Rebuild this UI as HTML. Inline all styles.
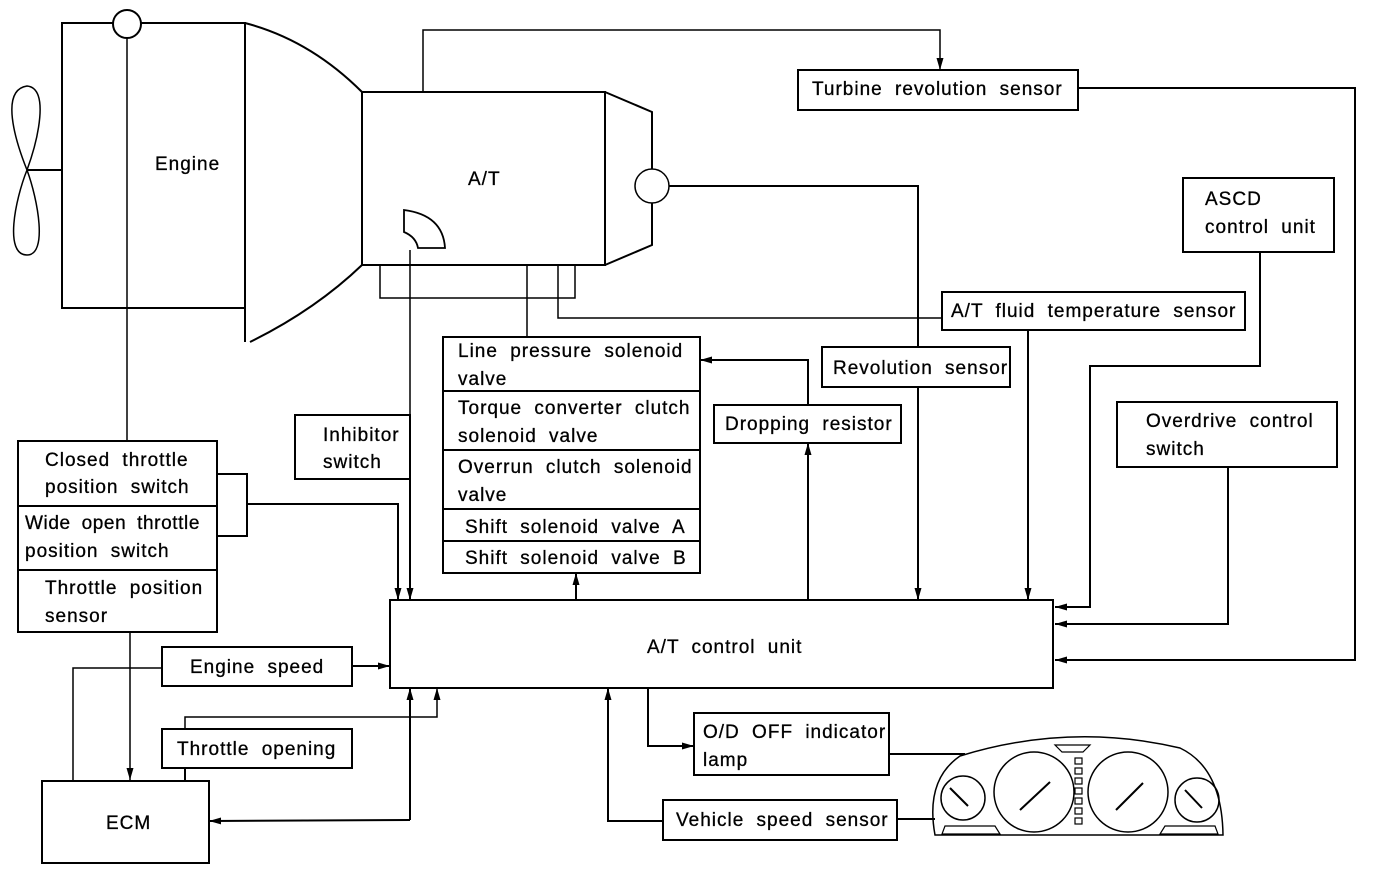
<!DOCTYPE html>
<html><head><meta charset="utf-8"><style>
html,body{margin:0;padding:0;background:#fff;}
svg{display:block;}
text{font-family:"Liberation Sans",sans-serif;font-size:19px;fill:#000;word-spacing:6px;letter-spacing:1px;stroke:#000;stroke-width:0.3px;}
</style></head><body>
<svg width="1376" height="870" viewBox="0 0 1376 870" xmlns="http://www.w3.org/2000/svg">
<defs>
<marker id="a" markerWidth="12" markerHeight="8" refX="12" refY="4" orient="auto" markerUnits="userSpaceOnUse">
<path d="M0,0.5 L12,4 L0,7.5 Z" fill="#000"/></marker>
</defs>
<g fill="none" stroke="#000" stroke-width="2">
<path d="M27,170 C15,140 0,90 27,86 C50,88 38,140 27,170 C15,200 4,255 27,255 C48,255 38,200 27,170 Z" stroke-width="1.5"/>
<line x1="27" y1="170" x2="62" y2="170"/>
<path d="M62,23 L245,23 L245,308 L62,308 Z"/>
<circle cx="127" cy="24" r="14" fill="#fff"/>
<line x1="127" y1="38" x2="127" y2="441" stroke-width="1.5"/>
<line x1="245" y1="23" x2="245" y2="342"/>
<path d="M245,23 Q310,40 362,92"/>
<path d="M362,265 Q315,310 250,342"/>
<rect x="362" y="92" width="243" height="173"/>
<path d="M605,92 L652,112 L652,245 L605,265"/>
<circle cx="652" cy="186" r="17" fill="#fff" stroke-width="1.5"/>
<path d="M404,210 Q443,215 445,248 L418,248 Q416,237 404,232 Z" stroke-width="1.8"/>
<path d="M669,186 L918,186 L918,600" marker-end="url(#a)"/>
<path d="M423,92 L423,30 L940,30 L940,70" marker-end="url(#a)" stroke-width="1.5"/>
<path d="M380,265 L380,298 L575,298 L575,265" stroke-width="1.5"/>
<path d="M558,265 L558,318 L942,318" stroke-width="1.5"/>
<line x1="527" y1="265" x2="527" y2="337" stroke-width="1.5"/>
<line x1="410" y1="250" x2="410" y2="415" stroke-width="1.5"/>
<rect x="798" y="70" width="280" height="40"/>
<path d="M1078,88 L1355,88 L1355,660 L1055,660" marker-end="url(#a)"/>
<rect x="1183" y="178" width="151" height="74"/>
<path d="M1260,252 L1260,366 L1090,366 L1090,607 L1055,607" marker-end="url(#a)"/>
<rect x="1117" y="402" width="220" height="65"/>
<path d="M1228,467 L1228,624 L1055,624" marker-end="url(#a)"/>
<rect x="942" y="292" width="303" height="38"/>
<path d="M1028,330 L1028,600" marker-end="url(#a)"/>
<rect x="822" y="347" width="188" height="40" fill="#fff"/>
<rect x="714" y="405" width="187" height="38"/>
<path d="M808,600 L808,443" marker-end="url(#a)"/>
<path d="M808,405 L808,360 L700,360" marker-end="url(#a)"/>
<rect x="443" y="337" width="257" height="236"/>
<line x1="443" y1="391" x2="700" y2="391"/>
<line x1="443" y1="450" x2="700" y2="450"/>
<line x1="443" y1="509" x2="700" y2="509"/>
<line x1="443" y1="541" x2="700" y2="541"/>
<path d="M576,600 L576,573" marker-end="url(#a)"/>
<rect x="295" y="415" width="115" height="64"/>
<path d="M410,479 L410,600" marker-end="url(#a)"/>
<rect x="18" y="441" width="199" height="191"/>
<line x1="18" y1="506" x2="217" y2="506"/>
<line x1="18" y1="570" x2="217" y2="570"/>
<path d="M217,474 L247,474 L247,536 L217,536"/>
<path d="M247,504 L398,504 L398,600" marker-end="url(#a)"/>
<path d="M130,632 L130,780" marker-end="url(#a)" stroke-width="1.5"/>
<rect x="390" y="600" width="663" height="88"/>
<rect x="162" y="647" width="190" height="39"/>
<path d="M352,666 L390,666" marker-end="url(#a)"/>
<path d="M162,668 L73,668 L73,781" stroke-width="1.5"/>
<rect x="162" y="729" width="190" height="39"/>
<path d="M185,781 L185,768"/>
<path d="M185,729 L185,717 L437,717 L437,688" marker-end="url(#a)" stroke-width="1.5"/>
<rect x="42" y="781" width="167" height="82"/>
<path d="M410,820 L410,688" marker-end="url(#a)"/>
<path d="M410,820 L209,821" marker-end="url(#a)"/>
<rect x="694" y="713" width="195" height="62"/>
<path d="M648,688 L648,746 L694,746" marker-end="url(#a)"/>
<line x1="889" y1="754" x2="965" y2="754"/>
<rect x="663" y="800" width="234" height="40"/>
<path d="M663,821 L608,821 L608,688" marker-end="url(#a)"/>
<line x1="897" y1="819" x2="935" y2="819"/>
<path d="M935,835 Q925,780 960,756 Q1070,722 1180,748 Q1222,768 1223,835 Z" stroke-width="1.5"/>
<circle cx="963" cy="798" r="22" stroke-width="1.5"/>
<circle cx="1034" cy="792" r="40" stroke-width="1.5"/>
<circle cx="1128" cy="792" r="40" stroke-width="1.5"/>
<circle cx="1197" cy="800" r="22" stroke-width="1.5"/>
<line x1="950" y1="788" x2="968" y2="806"/>
<line x1="1020" y1="810" x2="1050" y2="782" stroke-width="2"/>
<line x1="1116" y1="810" x2="1143" y2="783" stroke-width="2"/>
<line x1="1185" y1="790" x2="1202" y2="808"/>
<path d="M1055,745 L1090,745 L1083,752 L1062,752 Z" stroke-width="1.2"/>
<path d="M945,826 L995,826 L1000,834 L942,834 Z" stroke-width="1.2"/>
<path d="M1165,826 L1215,826 L1218,834 L1160,834 Z" stroke-width="1.2"/>
<g stroke-width="1.2">
<rect x="1075" y="758" width="7" height="6"/><rect x="1075" y="768" width="7" height="6"/>
<rect x="1075" y="778" width="7" height="6"/><rect x="1075" y="788" width="7" height="6"/>
<rect x="1075" y="798" width="7" height="6"/><rect x="1075" y="808" width="7" height="6"/>
<rect x="1075" y="818" width="7" height="6"/>
</g>
</g>
<text x="155" y="170">Engine</text>
<text x="468" y="185">A/T</text>
<text x="812" y="95">Turbine revolution sensor</text>
<text x="1205" y="205">ASCD</text>
<text x="1205" y="233">control unit</text>
<text x="951" y="317">A/T fluid temperature sensor</text>
<text x="833" y="374">Revolution sensor</text>
<text x="725" y="430">Dropping resistor</text>
<text x="1146" y="427">Overdrive control</text>
<text x="1146" y="455">switch</text>
<text x="458" y="357">Line pressure solenoid</text>
<text x="458" y="385">valve</text>
<text x="458" y="414">Torque converter clutch</text>
<text x="458" y="442">solenoid valve</text>
<text x="458" y="473">Overrun clutch solenoid</text>
<text x="458" y="501">valve</text>
<text x="465" y="533">Shift solenoid valve A</text>
<text x="465" y="564">Shift solenoid valve B</text>
<text x="323" y="441">Inhibitor</text>
<text x="323" y="468">switch</text>
<text x="45" y="466">Closed throttle</text>
<text x="45" y="493">position switch</text>
<text x="25" y="529" style="letter-spacing:0.6px;word-spacing:5px">Wide open throttle</text>
<text x="25" y="557">position switch</text>
<text x="45" y="594">Throttle position</text>
<text x="45" y="622">sensor</text>
<text x="647" y="653">A/T control unit</text>
<text x="190" y="673">Engine speed</text>
<text x="177" y="755">Throttle opening</text>
<text x="106" y="829">ECM</text>
<text x="703" y="738">O/D OFF indicator</text>
<text x="703" y="766">lamp</text>
<text x="676" y="826">Vehicle speed sensor</text>
</svg>
</body></html>
